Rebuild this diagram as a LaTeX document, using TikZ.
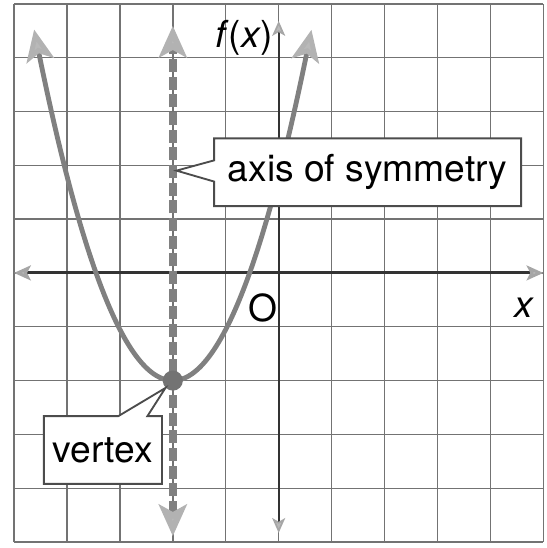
\documentclass[tikz,border=0pt]{standalone}
\usepackage{fontspec}
\setmainfont{TeX Gyre Heros}
\usetikzlibrary{arrows.meta,shapes.callouts,positioning,calc}

\begin{document}
\begin{tikzpicture}[x=1cm,y=1.017cm,font=\fontsize{20}{24}\selectfont,
  gridl/.style={black!55,line width=0.8pt},
  xaxis/.style={black!80,line width=1.6pt,{Stealth[length=9pt,width=8pt,inset=2pt,fill=gray!55,color=gray!70]}-{Stealth[length=9pt,width=8pt,inset=2pt,fill=gray!55,color=gray!70]}},
  yaxis/.style={black!80,line width=0.9pt,{Stealth[length=8pt,width=7pt,inset=2pt,fill=gray!55,color=gray!70]}-{Stealth[length=8pt,width=7pt,inset=2pt,fill=gray!55,color=gray!70]}},
  symax/.style={black!50,line width=4pt,dash pattern=on 7pt off 2.5pt,{Stealth[length=17pt,width=15pt,inset=4pt,fill=gray!55,color=gray!60]}-{Stealth[length=17pt,width=15pt,inset=4pt,fill=gray!55,color=gray!60]}},
  curve/.style={black!50,line width=2.6pt,{Stealth[length=17pt,width=15pt,inset=4pt,fill=gray!55,color=gray!60]}-{Stealth[length=17pt,width=15pt,inset=4pt,fill=gray!55,color=gray!60]}},
  callbox/.style={rectangle callout,draw=black!70,line width=1pt,fill=white,minimum height=1.28cm,inner xsep=0.1cm},
  dot/.style={circle,fill=black!55,inner sep=0pt,minimum size=0.38cm}]
\useasboundingbox (-5.265,-5.11) rectangle (5.057,5.07);
\foreach \i in {-5,...,5}{
  \draw[gridl](\i,-5)--(\i,5);
  \draw[gridl](-5,\i)--(5,\i);
}
\coordinate (xl) at (-5,0);
\coordinate (xr) at (5,0);
\coordinate (yt) at (0,4.68);
\coordinate (yb) at (0,-4.83);
\draw[xaxis](xl)--(xr);
\draw[yaxis](yb)--(yt);
\coordinate (st) at (-2,4.59);
\coordinate (sb) at (-2,-4.89);
\draw[symax](sb)--(st);
\draw[curve]plot[domain=-4.62:0.62,samples=80,smooth](\x,{0.95*(\x+2)*(\x+2)-2});
\node[dot](v) at (-2,-2){};
\node[callbox,minimum width=5.8cm,callout absolute pointer={(-1.93,1.9)},callout pointer width=0.4cm](aos) at (1.68,1.87){axis of symmetry};
\node[callbox,minimum width=2.23cm,callout absolute pointer={(v.south west)},callout pointer width=0.55cm](vx) at (-3.32,-3.29){vertex};
\node(fx) at (-0.65,4.37){\textit{f}(\textit{x})};
\node(o) at (-0.29,-0.65){O};
\node(xlab) at (4.64,-0.65){\textit{x}};
\end{tikzpicture}
\end{document}
